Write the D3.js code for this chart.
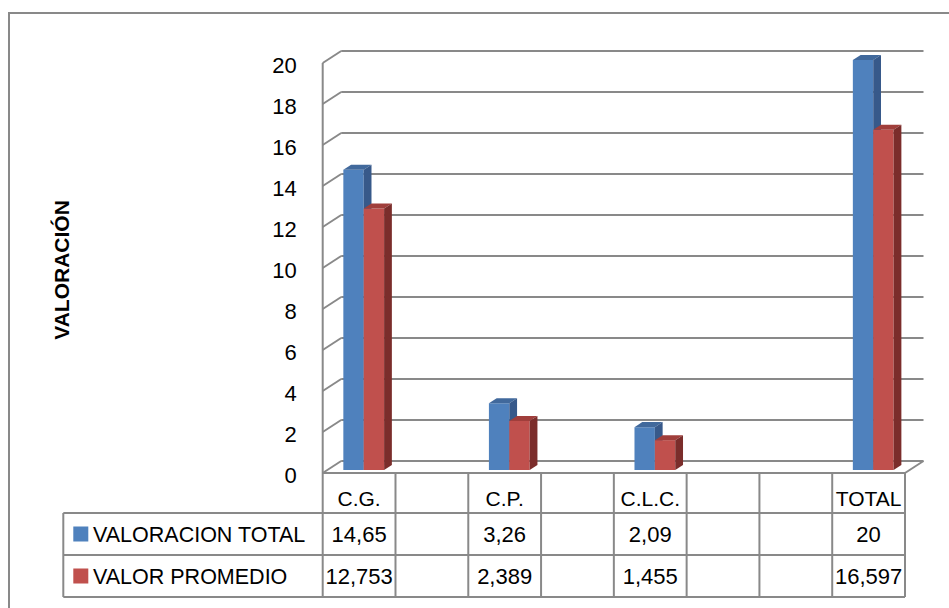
<!DOCTYPE html>
<html>
<head>
<meta charset="utf-8">
<script src="https://cdn.jsdelivr.net/npm/d3@7"></script>
<style>
  body { margin: 0; background: #fff; }
  text { font-family: "Liberation Sans", Arial, sans-serif; fill: #000; }
</style>
</head>
<body>
<svg width="949" height="608"></svg>
<script>
const categories = ["C.G.", "", "C.P.", "", "C.L.C.", "", "", "TOTAL"];
const valoracionTotal = [14.65, null, 3.26, null, 2.09, null, null, 20];
const valorPromedio = [12.753, null, 2.389, null, 1.455, null, null, 16.597];
const seriesNames = ["VALORACION TOTAL", "VALOR PROMEDIO"];
const yTicks = [0, 2, 4, 6, 8, 10, 12, 14, 16, 18, 20];

const svg = d3.select("svg");
const grid = "#898989";

// 3d depth offset of the plot box
const DX = 18.5, DY = 12;
const px = (x, d) => x + d * DX;
const py = (y, d) => y - d * DY;

const keys = categories.map((c, i) => i);
const x = d3.scaleBand().domain(keys).range([322.7, 905]);
const y = d3.scaleLinear().domain([0, 20]).range([473, 63]);
const bw = x.bandwidth();

// outer frame (only top/left visible)
svg.append("rect")
  .attr("x", 9).attr("y", 13)
  .attr("width", 1000).attr("height", 1000)
  .attr("fill", "none").attr("stroke", grid).attr("stroke-width", 2);

// back wall gridlines + side wall diagonals
const left = x.range()[0], right = x.range()[1];
yTicks.forEach((v) => {
  svg.append("line")
    .attr("x1", px(left, 1)).attr("y1", py(y(v), 1))
    .attr("x2", px(right, 1)).attr("y2", py(y(v), 1))
    .attr("stroke", grid).attr("stroke-width", 2);
  svg.append("line")
    .attr("x1", left).attr("y1", y(v))
    .attr("x2", px(left, 1)).attr("y2", py(y(v), 1))
    .attr("stroke", grid).attr("stroke-width", 2);
});
// floor right edge
svg.append("line")
  .attr("x1", right).attr("y1", y(0))
  .attr("x2", px(right, 1)).attr("y2", py(y(0), 1))
  .attr("stroke", grid).attr("stroke-width", 2);
// left front edge
svg.append("line")
  .attr("x1", left).attr("y1", y(20))
  .attr("x2", left).attr("y2", 597)
  .attr("stroke", grid).attr("stroke-width", 2);

// y axis labels
const yAxis = svg.append("g")
  .attr("transform", `translate(${left},2)`)
  .call(d3.axisLeft(y).tickValues(yTicks).tickSize(0).tickPadding(26).tickFormat(d3.format("d")));
yAxis.select(".domain").remove();
yAxis.selectAll("text")
  .style("font-family", '"Liberation Sans", Arial, sans-serif')
  .style("font-size", "22px").attr("fill", "#000");

// axis title
svg.append("text")
  .attr("transform", "translate(69,270) rotate(-90)")
  .attr("text-anchor", "middle")
  .style("font-size", "21px").style("font-weight", "bold")
  .text("VALORACIÓN");

// bars
const colors = [
  { front: "#4F81BD", top: "#41699C", side: "#37598A" },
  { front: "#C0504D", top: "#A03E3B", side: "#7B2D2B" }
];
const series = [valoracionTotal, valorPromedio];
const d0 = 0.25, d1 = 0.67;
const barW = bw * 0.28;
const poly = (pts) => pts.map((p) => p.join(",")).join(" ");

series.forEach((vals, s) => {
  const c = colors[s];
  const g = svg.append("g");
  vals.forEach((v, i) => {
    if (v == null) return;
    const xl = x(i) + bw * 0.22 + s * barW;
    const xr = xl + barW;
    const yt = y(v), yb = y(0);
    g.append("polygon").attr("fill", c.front)
      .attr("points", poly([[px(xl, d0), py(yt, d0)], [px(xr, d0), py(yt, d0)],
                            [px(xr, d0), py(yb, d0)], [px(xl, d0), py(yb, d0)]]));
    g.append("polygon").attr("fill", c.top)
      .attr("points", poly([[px(xl, d0), py(yt, d0)], [px(xr, d0), py(yt, d0)],
                            [px(xr, d1), py(yt, d1)], [px(xl, d1), py(yt, d1)]]));
    g.append("polygon").attr("fill", c.side)
      .attr("points", poly([[px(xr, d0), py(yt, d0)], [px(xr, d1), py(yt, d1)],
                            [px(xr, d1), py(yb, d1)], [px(xr, d0), py(yb, d0)]]));
  });
});

// data table
const rowY = [473, 513, 555, 597];
const legendX = 63.3;
const hline = (x1, x2, yy) => svg.append("line")
  .attr("x1", x1).attr("x2", x2).attr("y1", yy).attr("y2", yy)
  .attr("stroke", grid).attr("stroke-width", 2);
const vline = (xx, y1, y2) => svg.append("line")
  .attr("x1", xx).attr("x2", xx).attr("y1", y1).attr("y2", y2)
  .attr("stroke", grid).attr("stroke-width", 2);

hline(left, right, rowY[0]);
hline(legendX, right, rowY[1]);
hline(legendX, right, rowY[2]);
hline(legendX, right, rowY[3]);
vline(legendX, rowY[1], rowY[3]);
keys.forEach((k) => vline(x(k) + bw, rowY[0], rowY[3]));

const fmt = (v) => String(v).replace(".", ",");
categories.forEach((cat, i) => {
  svg.append("text")
    .attr("x", x(i) + bw / 2).attr("y", rowY[0] + 33)
    .attr("text-anchor", "middle").style("font-size", "21px")
    .text(cat);
});
series.forEach((vals, s) => {
  vals.forEach((v, i) => {
    if (v == null) return;
    svg.append("text")
      .attr("x", x(i) + bw / 2).attr("y", rowY[s + 1] + 29)
      .attr("text-anchor", "middle").style("font-size", "22px")
      .text(fmt(v));
  });
  svg.append("rect")
    .attr("x", 73.3).attr("y", rowY[s + 1] + 13.5)
    .attr("width", 15).attr("height", 15)
    .attr("fill", colors[s].front);
  svg.append("text")
    .attr("x", 93).attr("y", rowY[s + 1] + 29)
    .style("font-size", "21.5px")
    .text(seriesNames[s]);
});
</script>
</body>
</html>
